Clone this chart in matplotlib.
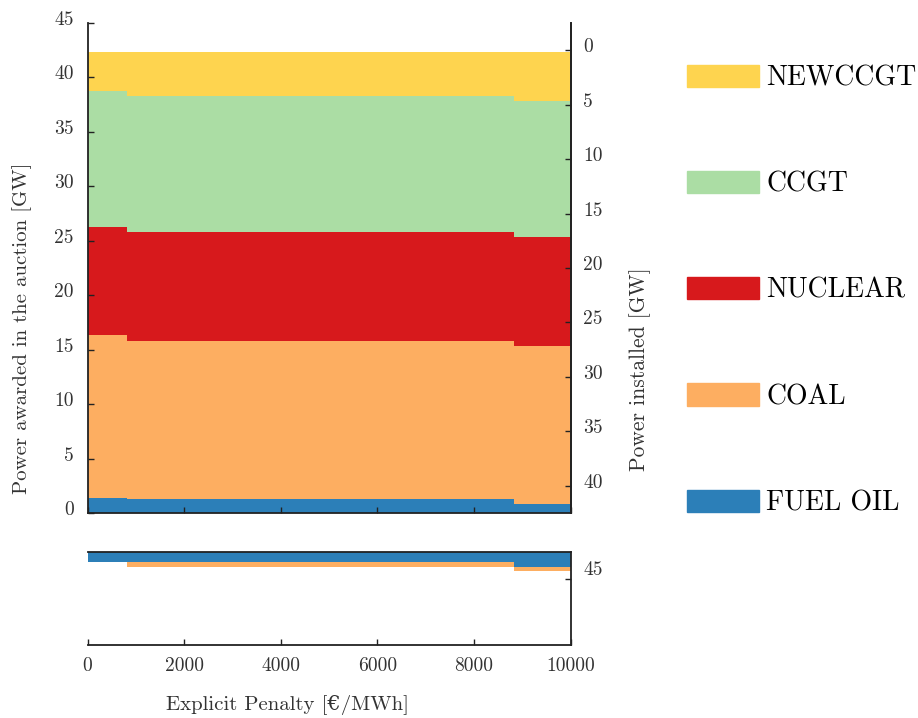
import numpy as np
import matplotlib.pyplot as plt
import matplotlib.transforms as mtransforms
from matplotlib.patches import Patch

plt.rcParams['font.family'] = ['cmr10', 'DejaVu Serif']
plt.rcParams['axes.unicode_minus'] = False
plt.rcParams['axes.formatter.use_mathtext'] = False

# data, GW, step changes at each penalty value
penalty = [0, 820, 8820, 10000]
fuel_oil = [1.40, 1.30, 0.83, 0.83]
coal = [14.95, 14.50, 14.50, 14.50]
nuclear = [9.95, 10.00, 10.00, 10.00]
ccgt = [12.45, 12.50, 12.50, 12.50]
newccgt = [3.58, 4.00, 4.50, 4.50]
# parts shown below zero in the lower panel
fuel_oil_neg = [-1.00, -1.00, -1.40, -1.40]
coal_neg = [0.00, -0.45, -0.40, -0.40]
installed_total = 42.5

names = ['FUEL OIL', 'COAL', 'NUCLEAR', 'CCGT', 'NEWCCGT']
colors = ['#2C7FB8', '#FDAE61', '#D7191C', '#ABDDA4', '#FED44F']

W, H = 918, 718
fig = plt.figure(figsize=(W / 100, H / 100), dpi=100)

x0, x1 = 87.5, 570.5
ax = fig.add_axes([x0 / W, 1 - 513 / H, (x1 - x0) / W, (513 - 23) / H])
axb = fig.add_axes([x0 / W, 1 - 645 / H, (x1 - x0) / W, (645 - 551.5) / H])

x = np.array(penalty)
base = np.zeros(len(x))
for vals, c in zip([fuel_oil, coal, nuclear, ccgt, newccgt], colors):
    top = base + np.array(vals)
    ax.fill_between(x, base, top, step='post', color=c, lw=0)
    base = top

base = np.zeros(len(x))
for vals, c in zip([fuel_oil_neg, coal_neg], colors):
    bot = base + np.array(vals)
    axb.fill_between(x, bot, base, step='post', color=c, lw=0)
    base = bot

spine_c = '#222222'
txt_c = '#333333'
lw = 1.3
tsize = 14

ax.set_xlim(0, 10000)
ax.set_ylim(0, 45)
ax.set_yticks(range(0, 46, 5))
ax.set_xticks(range(0, 10001, 2000))
ax.tick_params(axis='x', direction='in', length=4, width=1, labelbottom=False, color=spine_c)
ax.tick_params(axis='y', direction='in', length=4, width=1, pad=10, labelsize=tsize,
               color=spine_c, labelcolor=txt_c)
ax.spines['top'].set_visible(False)
for s in ['left', 'right', 'bottom']:
    ax.spines[s].set_linewidth(lw)
    ax.spines[s].set_color(spine_c)

axr = ax.twinx()
axr.set_ylim(installed_total, installed_total - 45)
axr.set_yticks(range(0, 41, 5))
axr.tick_params(axis='y', direction='in', length=4, width=1, pad=9, labelsize=tsize,
                color=spine_c, labelcolor=txt_c)
for s in ['top', 'left', 'bottom']:
    axr.spines[s].set_visible(False)
axr.spines['right'].set_linewidth(lw)
axr.spines['right'].set_color(spine_c)

neg_span = (645 - 551.5) / ((513 - 23) / 45)
axb.set_xlim(0, 10000)
axb.set_ylim(-neg_span, 0)
axb.set_yticks([])
axb.set_xticks(range(0, 10001, 2000))
axb.tick_params(axis='x', direction='in', length=4, width=1, pad=9, labelsize=tsize,
                color=spine_c, labelcolor=txt_c)
axb.spines['left'].set_visible(False)
for s in ['top', 'right', 'bottom']:
    axb.spines[s].set_linewidth(lw)
    axb.spines[s].set_color(spine_c)

axbr = axb.twinx()
axbr.set_ylim(installed_total + neg_span, installed_total)
axbr.set_yticks([45])
axbr.tick_params(axis='y', direction='in', length=4, width=1, pad=9, labelsize=tsize,
                 color=spine_c, labelcolor=txt_c)
for s in ['top', 'left', 'bottom', 'right']:
    axbr.spines[s].set_visible(False)

# y tick labels sit a little above their ticks in the original
shift = mtransforms.ScaledTranslation(0, 5 / 100, fig.dpi_scale_trans)
for a in [ax, axr]:
    for t in a.yaxis.get_major_ticks():
        t.label1.set_transform(t.label1.get_transform() + shift)
        t.label2.set_transform(t.label2.get_transform() + shift)
shift2 = mtransforms.ScaledTranslation(0, 11 / 100, fig.dpi_scale_trans)
for t in axbr.yaxis.get_major_ticks():
    t.label2.set_transform(t.label2.get_transform() + shift2)

fig.text(22 / W, 1 - 328 / H, 'Power awarded in the auction [GW]', rotation=90,
         ha='center', va='center', fontsize=15, color=txt_c)
fig.text(640 / W, 1 - 369 / H, 'Power installed [GW]', rotation=90,
         ha='center', va='center', fontsize=15.5, color=txt_c)
fig.text(288 / W, 1 - 705 / H, 'Explicit Penalty [€/MWh]',
         ha='center', va='center', fontsize=15, color=txt_c)

handles = [Patch(color=c, label=n) for n, c in zip(names, colors)][::-1]
fig.legend(handles=handles, loc='upper left', bbox_to_anchor=(687 / W, 1 - 65 / H),
           frameon=False, fontsize=20, handlelength=2.6, handleheight=0.85,
           handletextpad=0.25, labelspacing=2.86, borderpad=0, borderaxespad=0)

fig.savefig('out.png', dpi=100)
